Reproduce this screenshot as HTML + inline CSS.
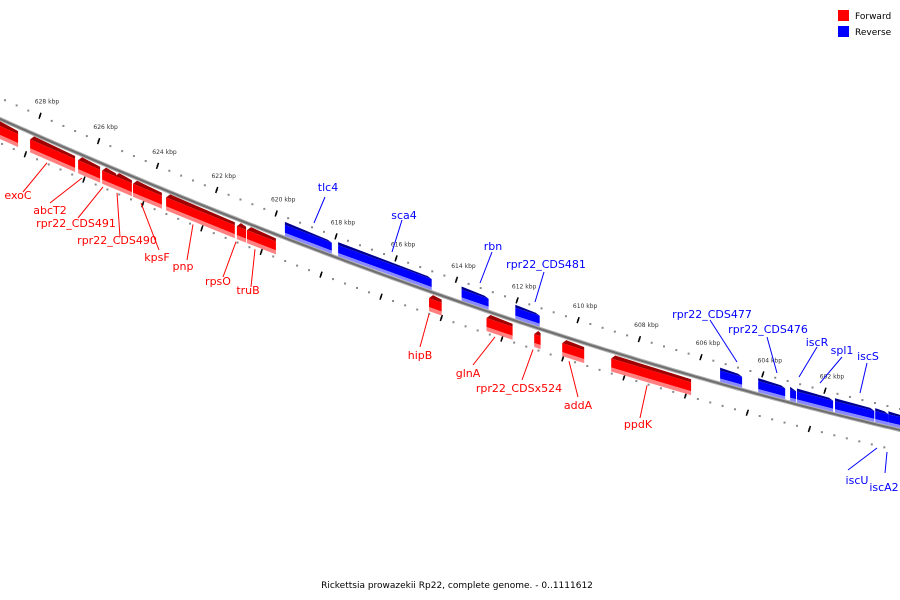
<!DOCTYPE html>
<html><head><meta charset="utf-8"><style>
body{margin:0;background:#fff;width:900px;height:600px;overflow:hidden}
svg{display:block}
text{font-family:"DejaVu Sans","Liberation Sans",sans-serif}
</style></head><body>
<svg id="chart" width="900" height="600" viewBox="0 0 900 600" xmlns="http://www.w3.org/2000/svg">
<g>
<rect x="838" y="10" width="11" height="11" fill="#f00"/>
<text x="855" y="19" font-size="9" fill="#000">Forward</text>
<rect x="838" y="26" width="11" height="11" fill="#00f"/>
<text x="855" y="35" font-size="9" fill="#000">Reverse</text>
</g>
<text x="457" y="588" font-size="9" text-anchor="middle" fill="#000">Rickettsia prowazekii Rp22, complete genome. - 0..1111612</text>
</svg>
<script>
const tickKbp=[628,626,624,622,620,618,616,614,612,610,608,606,604,602];
const fwdNames=["","exoC","abcT2","rpr22_CDS491","rpr22_CDS490","kpsF","pnp","rpsO","truB","hipB","glnA","rpr22_CDSx524","addA","ppdK"];
const fwdStart=[629.54,628.34,626.70,625.88,625.44,624.83,623.71,621.32,620.98,614.91,613.01,611.44,610.52,608.92];
const fwdEnd=[628.75,626.80,625.95,625.40,624.87,623.85,621.39,621.01,620.01,614.49,612.15,611.23,609.80,606.32];
const revNames=["tlc4","sca4","rbn","rpr22_CDS481","rpr22_CDS477","rpr22_CDS476","iscR","spl1","iscS","iscU","iscA2"];
const revStart=[619.71,617.93,613.83,612.06,605.38,604.15,603.12,602.90,601.68,600.39,599.97];
const revEnd=[618.14,614.82,612.94,611.26,604.67,603.28,602.93,601.74,600.42,599.97,599.46];
// label layout (pixel positions, not data)
const fwdLab=[null,[18,195,23,192,47],[50,210,50,203,82],[76,223,78,218,103],[117,240,120,237,117],[157,257,159,250,141],[183,266,187,260,193],[218,281,223,277,236],[248,290,251,287,255],[420,355,420,347,429],[468,373,473,365,495],[519,388,522,380,533],[578,405,578,397,569],[638,424,640,418,647]];
const revLab=[[328,187,314,223,325,197],[404,215,392,252,402,220],[493,246,480,283,492,252],[546,264,535,302,544,272],[712,314,737,362,710,320],[768,329,777,373,767,337],[817,342,799,377,817,347],[842,350,820,383,842,357],[868,356,860,393,867,363],[857,480,848,470,877,448],[884,487,885,473,887,452]];

const NS="http://www.w3.org/2000/svg";
const svg=document.getElementById('chart');
function X(k){const d=628-k;return 40+29.23*d+0.037*d*d;}
const AP=[[0,119],[280,236],[600,348],[900,430]];
function AY(x){let s=0;for(let i=0;i<4;i++){let t=AP[i][1];for(let j=0;j<4;j++){if(j!==i)t*=(x-AP[j][0])/(AP[i][0]-AP[j][0]);}s+=t;}return s;}
function mk(tag,attrs){const e=document.createElementNS(NS,tag);for(const k in attrs)e.setAttribute(k,attrs[k]);svg.appendChild(e);return e;}
function band(x1,x2,o1,o2,fill,tipL,tipR){
  const p=[[x1+tipL,AY(x1)+o1],[x2-tipR,AY(x2)+o1],[x2,AY(x2)+o2],[x1,AY(x1)+o2]];
  return mk('polygon',{points:p.map(q=>q[0].toFixed(1)+','+q[1].toFixed(1)).join(' '),fill:fill});
}
// axis
let d='';for(let x=-5;x<=905;x+=5){d+=(x===-5?'M':'L')+x+','+AY(x).toFixed(1);}
const ax2=mk('path',{d:d,stroke:'#b0b0b0',"stroke-width":4,fill:'none'});


const ax=mk('path',{d:d,stroke:'#6e6e6e',"stroke-width":2,fill:'none'});


// dots
for(let k=630;k>=598;k-=0.4){
  const x=X(k);
  if(x<-3||x>903)continue;
  const a=mk('rect',{x:x-1,y:AY(x)-22,width:2,height:2,fill:'#888'});
  
  
  const xl=X(k+0.5);
  const b=mk('rect',{x:xl-1,y:AY(xl)+23-3*xl/900,width:2,height:2,fill:'#888'});
  
  
}
tickKbp.forEach(k=>{
  const x=X(k),y=AY(x);
  const t=mk('line',{x1:x-1,y1:y-18,x2:x+1,y2:y-24,stroke:'#000',"stroke-width":1.5});
  
  
  const xl=X(k+0.5),yl=AY(xl)+24-3*xl/900;
  const t2=mk('line',{x1:xl-1,y1:yl+3,x2:xl+1,y2:yl-3,stroke:'#000',"stroke-width":1.5});
  
  
  const l=mk('text',{x:x+7,y:y-33,"font-size":6,"text-anchor":"middle",fill:'#333'});
  l.textContent=k+' kbp';
  
  
});
// forward genes (below axis, pointing left)
fwdStart.forEach((s,i)=>{
  const x1=X(s),x2=X(fwdEnd[i]);
  const g=[band(x1,x2,4,7,'#a00000',4,0),band(x1,x2,7,16,'#ff0000',0,0),band(x1,x2,16,20,'#ff8080',0,0)];
  g.forEach(e=>{
    
    
  });
  const L=fwdLab[i];
  if(L){
    const ln=mk('line',{x1:L[2],y1:L[3],x2:L[4],y2:AY(L[4])+23,stroke:'#f00',"stroke-width":1});
    
    
    const tx=mk('text',{x:L[0],y:L[1]+4,"font-size":11,"text-anchor":"middle",fill:'#f00'});
    tx.textContent=fwdNames[i];
    
    
  }
});
// reverse genes (above axis, pointing right)
revStart.forEach((s,i)=>{
  const x1=X(s),x2=X(revEnd[i]);
  const g=[band(x1,x2,-16,-13,'#000090',0,4),band(x1,x2,-13,-5,'#0000ff',0,0),band(x1,x2,-5,-2,'#8888ff',0,0)];
  g.forEach(e=>{
    
    
  });
  const L=revLab[i];
  const ln=mk('line',{x1:L[2],y1:L[3],x2:L[4],y2:L[5],stroke:'#00f',"stroke-width":1});
  
  
  const tx=mk('text',{x:L[0],y:L[1]+4,"font-size":11,"text-anchor":"middle",fill:'#00f'});
  tx.textContent=revNames[i];
  
  
});
</script>
</body></html>
